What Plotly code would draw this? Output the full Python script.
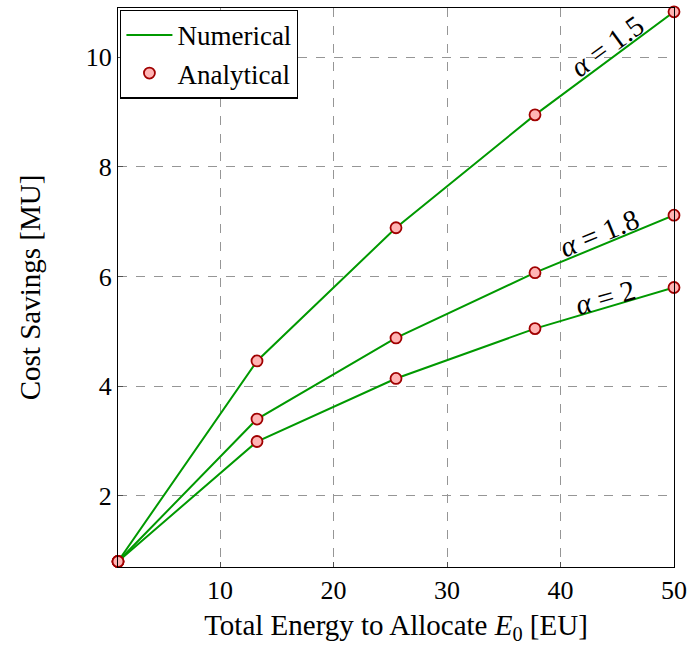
import plotly.graph_objects as go

x_energy = [1, 13.25, 25.5, 37.75, 50]
savings_a15 = [0.8, 4.46, 6.89, 8.95, 10.83]
savings_a18 = [0.8, 3.40, 4.88, 6.07, 7.12]
savings_a20 = [0.8, 2.99, 4.14, 5.05, 5.80]
series = [("α = 1.5", savings_a15), ("α = 1.8", savings_a18), ("α = 2", savings_a20)]
labels = [
    ("<i>α</i> = 1.5", 44.1, 10.2, -36),
    ("<i>α</i> = 1.8", 43.4, 6.8, -22),
    ("<i>α</i> = 2", 44.0, 5.62, -16),
]

GREEN = "rgb(0,153,0)"
FONT = "Liberation Serif"
FS = 26

fig = go.Figure()
for i, (name, ys) in enumerate(series):
    fig.add_trace(go.Scatter(x=x_energy, y=ys, mode="lines", name="Numerical",
                             line=dict(color=GREEN, width=2), showlegend=(i == 0),
                             legendrank=1))
for i, (name, ys) in enumerate(series):
    fig.add_trace(go.Scatter(x=x_energy, y=ys, mode="markers", name="Analytical",
                             marker=dict(symbol="circle", size=11, color="rgb(255,180,180)",
                                         line=dict(color="rgb(160,0,0)", width=1.8)),
                             showlegend=(i == 0), legendrank=2, cliponaxis=False))

for text, xx, yy, ang in labels:
    fig.add_annotation(x=xx, y=yy, text=text, showarrow=False, textangle=ang,
                       font=dict(family=FONT, size=29, color="black"))

axis_common = dict(showline=True, linecolor="black", linewidth=1.2, mirror=True,
                   showgrid=True, gridcolor="rgb(150,150,150)", griddash="dash", gridwidth=1,
                   zeroline=False, ticks="inside", ticklen=5, tickcolor="rgb(80,80,80)",
                   tickfont=dict(family=FONT, size=FS, color="black"))

fig.update_layout(
    width=694, height=645,
    margin=dict(l=118, r=13, t=7, b=78),
    plot_bgcolor="white", paper_bgcolor="white",
    font=dict(family=FONT, size=FS, color="black"),
    xaxis=dict(range=[1, 50], tickvals=[10, 20, 30, 40, 50],
               title=dict(text="Total Energy to Allocate <i>E</i><sub>0</sub> [EU]",
                          font=dict(family=FONT, size=29), standoff=12),
               **axis_common),
    yaxis=dict(range=[0.7, 10.9], tickvals=[2, 4, 6, 8, 10],
               title=dict(text="Cost Savings [MU]", font=dict(family=FONT, size=29), standoff=36),
               **axis_common),
    legend=dict(x=0.004, y=0.997, xanchor="left", yanchor="top",
                bordercolor="black", borderwidth=1.2, bgcolor="white",
                font=dict(family=FONT, size=27), tracegroupgap=0, itemwidth=46),
    showlegend=True,
)

fig.write_html("out.html")
